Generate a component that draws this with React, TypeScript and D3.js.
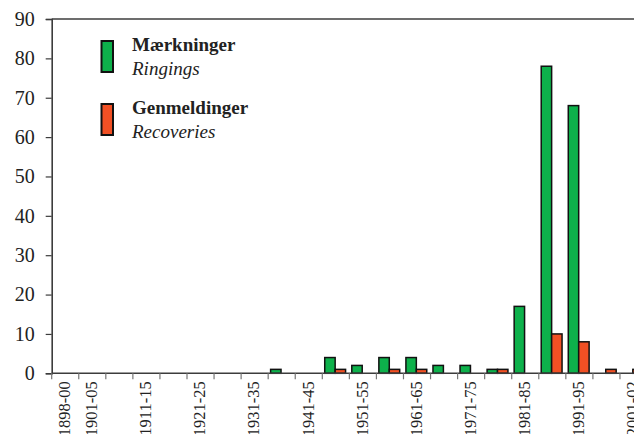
import React, { useEffect, useRef } from 'react'
import * as d3 from 'd3'

const periods = [
  '1898-00', '1901-05', '1906-10', '1911-15', '1916-20', '1921-25', '1926-30', '1931-35',
  '1936-40', '1941-45', '1946-50', '1951-55', '1956-60', '1961-65', '1966-70', '1971-75',
  '1976-80', '1981-85', '1986-90', '1991-95', '1996-00', '2001-02',
]
const shownLabels = [
  '1898-00', '1901-05', '1911-15', '1921-25', '1931-35', '1941-45',
  '1951-55', '1961-65', '1971-75', '1981-85', '1991-95', '2001-02',
]
const ringings = [0, 0, 0, 0, 0, 0, 0, 0, 1, 0, 4, 2, 4, 4, 2, 2, 1, 17, 78, 68, 0, 0]
const recoveries = [0, 0, 0, 0, 0, 0, 0, 0, 0, 0, 1, 0, 1, 1, 0, 0, 1, 0, 10, 8, 1, 1]
const yTicks = [0, 10, 20, 30, 40, 50, 60, 70, 80, 90]

const GREEN = '#0db14b'
const RED = '#f15024'
const AXIS = '#3c3c3c'
const FONT = '"Liberation Serif", "Times New Roman", serif'

export default function App() {
  const ref = useRef<SVGSVGElement>(null)

  useEffect(() => {
    const svg = d3.select(ref.current)
    svg.selectAll('*').remove()

    const left = 51.7
    const step = 27.06
    const x = d3.scaleBand<string>()
      .domain(periods)
      .range([left, left + step * periods.length])
      .padding(0)
    const inner = d3.scaleBand<string>()
      .domain(['ring', 'rec'])
      .range([x.bandwidth() * 0.09, x.bandwidth() * 0.86])
    const y = d3.scaleLinear().domain([0, 90]).range([373.3, 19])

    const rows = periods.map((p, i) => ({ p, ring: ringings[i], rec: recoveries[i] }))

    // frame top
    svg.append('line')
      .attr('x1', left).attr('x2', 700)
      .attr('y1', y(90)).attr('y2', y(90))
      .attr('stroke', AXIS).attr('stroke-width', 1.6)

    // bars
    const groups = svg.append('g').selectAll('g')
      .data(rows)
      .enter()
      .append('g')
      .attr('transform', d => `translate(${x(d.p)},0)`)

    const series: [keyof typeof rows[0], string, string][] = [['ring', 'ring', GREEN], ['rec', 'rec', RED]]
    series.forEach(([k, key, color]) => {
      groups.filter(d => (d[k] as number) > 0)
        .append('rect')
        .attr('x', inner(key) as number)
        .attr('width', inner.bandwidth())
        .attr('y', d => y(d[k] as number))
        .attr('height', d => y(0) - y(d[k] as number))
        .attr('fill', color)
        .attr('stroke', '#111')
        .attr('stroke-width', 1.5)
    })

    // y axis
    const yAxis = svg.append('g')
      .attr('transform', `translate(${left},0)`)
      .call(d3.axisLeft(y).tickValues(yTicks).tickSize(6).tickPadding(6))
    yAxis.select('.domain').attr('stroke', AXIS).attr('stroke-width', 1.6)
    yAxis.selectAll('line').attr('stroke', AXIS).attr('stroke-width', 1.2)
    yAxis.selectAll('text')
      .attr('fill', '#222')
      .style('font-family', FONT)
      .style('font-size', '20px')
      .attr('dx', '-5')

    // x axis
    const xAxis = svg.append('g')
      .attr('transform', `translate(0,${y(0)})`)
    xAxis.append('line')
      .attr('x1', left).attr('x2', 700)
      .attr('stroke', AXIS).attr('stroke-width', 1.6)
    xAxis.selectAll('.tick')
      .data(periods)
      .enter()
      .append('line')
      .attr('x1', d => x(d) as number).attr('x2', d => x(d) as number)
      .attr('y1', 0).attr('y2', 6)
      .attr('stroke', '#777').attr('stroke-width', 1.2)
    xAxis.selectAll('text')
      .data(shownLabels)
      .enter()
      .append('text')
      .attr('transform', d => `translate(${(x(d) as number) + x.bandwidth() / 2 - 1},8) rotate(-90)`)
      .attr('text-anchor', 'end')
      .attr('dy', '0.35em')
      .attr('fill', '#222')
      .style('font-family', FONT)
      .style('font-size', '16.5px')
      .text(d => d)

    // legend
    const legend = [
      { color: GREEN, name: 'Mærkninger', en: 'Ringings', top: 41 },
      { color: RED, name: 'Genmeldinger', en: 'Recoveries', top: 104 },
    ]
    const lg = svg.append('g').selectAll('g').data(legend).enter().append('g')
    lg.append('rect')
      .attr('x', 101.5).attr('y', d => d.top)
      .attr('width', 11.5).attr('height', 31)
      .attr('fill', d => d.color)
      .attr('stroke', '#111').attr('stroke-width', 2)
    lg.append('text')
      .attr('x', 132).attr('y', d => d.top + 9.5)
      .attr('fill', '#222')
      .style('font-family', FONT)
      .style('font-weight', 'bold')
      .style('font-size', '19px')
      .text(d => d.name)
    lg.append('text')
      .attr('x', 132).attr('y', d => d.top + 34)
      .attr('fill', '#222')
      .style('font-family', FONT)
      .style('font-style', 'italic')
      .style('font-size', '19px')
      .text(d => d.en)
  }, [])

  return (
    <svg
      ref={ref}
      width={634}
      height={434}
      style={{ position: 'absolute', top: 0, left: 0, background: '#fff', overflow: 'hidden' }}
    />
  )
}
